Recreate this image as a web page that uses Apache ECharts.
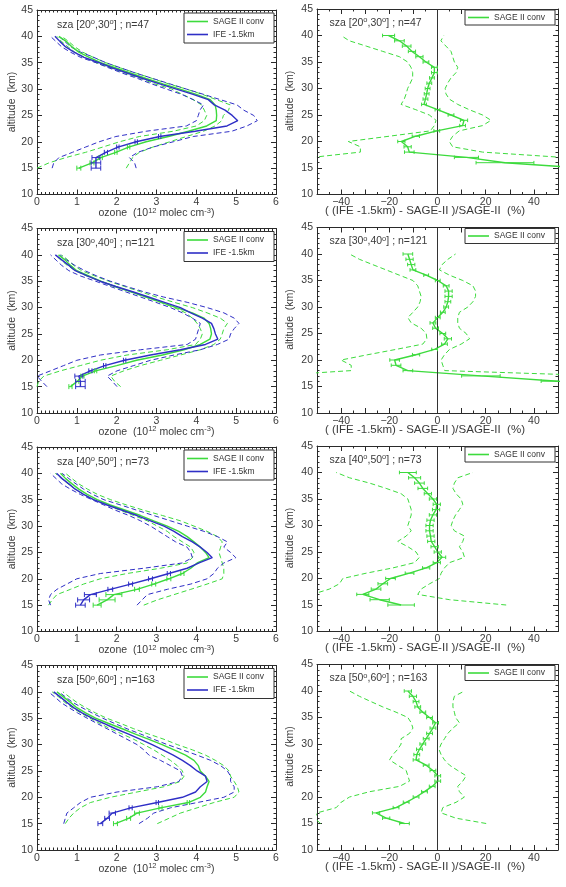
<!DOCTYPE html>
<html><head><meta charset="utf-8">
<script src="https://cdn.jsdelivr.net/npm/echarts@6/dist/echarts.min.js"></script>
<style>html,body{margin:0;padding:0;background:#fff}#c{width:566px;height:887px}</style>
</head><body><div id="c"></div>
<script>
// ---------- data ----------
const altitudes = [15,16,17,18,19,20,21,22,23,24,25,26,27,28,29,30,31,32,33,34,35,36,37,38,39,40];
const szaLow = [20,30,40,50];
const szaHigh = [30,40,50,60];
const nCount = [47,121,73,163];
const diffTickLabels = [-40,-20,0,20,40];

// panel 1  sza [20,30]
const p1_ife     = [1.48,1.48,1.48,1.73,2.03,2.49,3.08,3.97,4.77,5.04,4.9,4.72,4.45,4.3,3.92,3.5,3.08,2.66,2.28,1.9,1.56,1.18,0.93,0.72,0.58,0.45];
const p1_sage    = [1.05,1.38,1.6,1.98,2.3,2.74,3.3,3.8,4.26,4.5,4.51,4.5,4.47,4.35,4.0,3.59,3.16,2.74,2.36,1.98,1.6,1.31,1.05,0.88,0.74,0.55];
const p1_ifeLo   = [0.38,0.42,0.55,0.89,1.22,1.56,1.98,2.74,3.75,4.0,4.05,4.09,4.18,3.92,3.63,3.25,2.87,2.53,2.15,1.81,1.48,1.1,0.84,0.62,0.48,0.34];
const p1_ifeHi   = [2.49,2.45,2.32,2.53,2.91,3.42,3.92,4.89,5.27,5.53,5.44,5.19,5.02,4.6,4.18,3.75,3.33,2.91,2.49,2.11,1.73,1.43,1.1,0.85,0.7,0.55];
const p1_sageLo  = [0.0,0.3,0.72,1.22,1.65,2.07,2.57,3.42,4.0,4.2,4.26,4.2,4.13,3.92,3.65,3.38,2.95,2.6,2.22,1.85,1.48,1.2,0.95,0.78,0.62,0.5];
const p1_sageHi  = [2.24,2.32,2.4,2.57,2.91,3.33,3.75,4.18,4.47,4.64,4.68,4.81,4.85,4.5,4.15,3.75,3.3,2.9,2.5,2.1,1.73,1.42,1.15,0.95,0.8,0.62];
const p1_ifeErr  = [0.12,0.12,0.1,0.04,0.03,0.03,0.03,0,0,0,0,0,0,0,0,0,0,0,0,0,0,0,0,0,0,0];
const p1_sageErr = [0.05,0.05,0.04,0.03,0.03,0,0,0,0,0,0,0,0,0,0,0,0,0,0,0,0,0,0,0,0,0];
const p1_diff    = [60,28,12,-11.7,-12.4,-15,-9,-0.3,10.4,11,5.6,0,-5.6,-5,-4.5,-4.1,-3.4,-2.3,-1.3,-1.3,-4.8,-7.5,-10.6,-12.8,-15.8,-20.3];
const p1_diffLo  = [-70,-70,-52,-32,-32,-37,-20,-3,-1.3,-0.6,-3.4,-9,-15.1,-13.8,-13,-12.4,-11.3,-10.3,-10.3,-11,-12.4,-15.8,-22.7,-29.6,-36.6,-40];
const p1_diffHi  = [70,70,52,18.7,6.3,4.9,6.3,9,18.7,22.2,18.7,13.2,8.4,4.9,3.5,3.2,4.2,5.6,7.7,8.4,7,6.3,5.6,3.5,1.4,2.6];
const p1_diffErr = [5,12,5,2,1.5,1.5,1.5,1.2,1.2,1.5,1.2,1,1,1,1,1,1,1,1.2,1.2,1.2,1.5,1.5,1.8,2,2.5];

// panel 2  sza [30,40]
const p2_ife     = [1.09,1.09,1.05,1.34,1.7,2.2,2.85,3.6,4.23,4.54,4.48,4.44,4.38,4.15,3.86,3.6,3.2,2.8,2.4,1.98,1.58,1.26,0.96,0.8,0.63,0.46];
const p2_sage    = [0.84,1.01,1.14,1.47,2.0,2.5,3.15,3.69,4.1,4.34,4.38,4.36,4.32,4.19,3.9,3.5,3.12,2.74,2.36,1.95,1.6,1.3,1.0,0.84,0.71,0.54];
const p2_ifeLo   = [0.25,0.12,0.0,0.34,0.67,1.0,1.59,2.6,3.77,3.98,4.02,4.06,4.1,3.9,3.65,3.35,2.98,2.6,2.22,1.84,1.47,1.09,0.8,0.62,0.48,0.34];
const p2_ifeHi   = [2.01,1.89,1.76,2.01,2.43,2.85,3.44,4.1,4.53,4.82,4.86,4.95,5.07,4.95,4.69,4.27,3.77,3.18,2.68,2.25,1.84,1.5,1.2,0.95,0.75,0.58];
const p2_sageLo  = [0.0,0.04,0.17,0.59,1.09,1.59,2.26,3.27,3.98,4.1,4.15,4.1,4.02,3.9,3.73,3.44,3.1,2.72,2.35,1.98,1.6,1.25,0.96,0.76,0.6,0.46];
const p2_sageHi  = [2.1,1.95,1.85,2.18,2.6,3.1,3.6,4.1,4.44,4.6,4.65,4.69,4.78,4.6,4.27,3.9,3.44,3.0,2.6,2.2,1.8,1.45,1.12,0.92,0.78,0.62];
const p2_ifeErr  = [0.12,0.12,0.1,0.04,0.03,0.03,0,0,0,0,0,0,0,0,0,0,0,0,0,0,0,0,0,0,0,0];
const p2_sageErr = [0.04,0.04,0.04,0.03,0,0,0,0,0,0,0,0,0,0,0,0,0,0,0,0,0,0,0,0,0,0];
const p2_diff    = [75,50,18,-12.3,-17.2,-17.8,-8.9,-1.2,2.9,4.3,2.2,-0.8,-1.9,0.1,2.2,3.6,4.3,4.6,4.6,3.6,0.1,-4.7,-10.2,-10.9,-11.6,-12.3];
const p2_diffLo  = [-70,-70,-70,-35.8,-35.8,-40,-28.9,-17.2,-6.1,-4.4,-4.7,-6.8,-10.9,-12.3,-10.2,-8.2,-7.2,-6.8,-7.5,-8.2,-10.2,-15.8,-21.3,-26.9,-32.4,-36.5];
const p2_diffHi  = [70,70,70,3,2.2,1.5,2.9,5,9.8,13.3,11.9,9.1,8.4,8.4,9.1,12.6,14.7,15.8,15.8,14.7,10.5,5,0.8,1.9,4.3,7.5];
const p2_diffErr = [5,7,8,2,2,2,1.5,1.2,1.2,1.5,1.2,1.2,1.2,1,1,1,1.2,1.5,1.5,1.2,1,1,1.2,1.5,1.5,2];

// panel 3  sza [40,50]
const p3_ife     = [1.09,1.17,1.34,1.84,2.35,2.85,3.31,3.77,4.07,4.4,4.27,4.1,3.9,3.65,3.44,3.19,2.85,2.51,2.14,1.76,1.42,1.17,0.96,0.8,0.63,0.49];
const p3_sage    = [1.51,1.76,1.93,2.51,2.93,3.31,3.65,3.86,4.02,4.32,4.23,4.1,3.94,3.77,3.56,3.27,2.93,2.6,2.22,1.84,1.51,1.26,1.05,0.88,0.72,0.59];
const p3_ifeLo   = [0.34,0.29,0.34,0.5,0.75,1.0,1.59,2.68,3.65,3.9,3.86,3.77,3.48,3.27,3.06,2.85,2.6,2.31,1.97,1.68,1.38,1.09,0.84,0.62,0.48,0.34];
const p3_ifeHi   = [2.51,2.64,2.77,3.27,3.86,4.27,4.44,4.53,4.69,4.99,4.86,4.69,4.78,4.53,4.19,3.77,3.35,2.93,2.51,2.1,1.68,1.4,1.17,0.98,0.8,0.63];
const p3_sageLo  = [0.29,0.38,0.5,0.84,1.17,1.59,2.26,3.1,3.77,3.9,3.94,3.86,3.65,3.44,3.27,3.02,2.77,2.43,2.09,1.76,1.42,1.17,0.96,0.78,0.62,0.46];
const p3_sageHi  = [2.68,3.02,3.44,3.86,4.27,4.65,4.69,4.69,4.65,4.61,4.57,4.61,4.65,4.53,4.27,3.94,3.6,3.15,2.68,2.25,1.85,1.52,1.27,1.05,0.88,0.72];
const p3_ifeErr  = [0.12,0.15,0.15,0.06,0.05,0.05,0.04,0,0,0,0,0,0,0,0,0,0,0,0,0,0,0,0,0,0,0];
const p3_sageErr = [0.1,0.2,0.2,0.06,0.05,0.05,0.04,0,0,0,0,0,0,0,0,0,0,0,0,0,0,0,0,0,0,0];
const p3_diff    = [-15.1,-24,-31,-25.5,-22.7,-19.5,-11.6,-4.7,-0.3,1.9,0.1,-1.2,-2.6,-2.9,-3.3,-3.3,-2.9,-1.9,-0.6,-0.3,-1.9,-4,-6.1,-7.5,-9.5,-12.3];
const p3_diffLo  = [-70,-70,-52,-44.9,-40.7,-39.3,-29.6,-18.5,-9.5,-7.5,-8.9,-12.3,-16.5,-13,-10.9,-12.3,-11.6,-10.9,-10.9,-11.6,-12.3,-15.1,-21.3,-28.2,-36.5,-42];
const p3_diffHi  = [28.5,5,-8.2,-6.8,-3.3,0.8,1.5,2.9,5,11.2,10.5,9.1,10.5,11.2,7,5.7,6.4,7.5,9.1,10.5,9.8,7.7,6.4,7,8.4,14.7];
const p3_diffErr = [5.5,4,2.5,2,2,2,1.8,1.5,1.5,1.5,1.5,1.5,1.5,1.5,1.5,1.5,1.5,1.5,1.5,1.5,1.5,1.5,2,2,2.5,3.5];

// panel 4  sza [50,60]
const p4_ife     = [1.59,1.76,1.89,2.35,3.02,3.65,3.98,4.1,4.27,4.23,4.02,3.85,3.65,3.42,3.16,2.89,2.6,2.3,1.97,1.68,1.38,1.13,0.92,0.75,0.59,0.42];
const p4_sage    = [1.97,2.3,2.51,3.1,3.8,4.1,4.23,4.27,4.32,4.23,4.1,4.05,3.94,3.73,3.44,3.14,2.81,2.47,2.14,1.8,1.47,1.22,1.0,0.84,0.67,0.5];
const p4_ifeLo   = [0.67,0.71,0.75,0.92,1.09,1.34,2.01,3.02,3.56,3.65,3.6,3.35,3.1,2.81,2.68,2.51,2.26,2.01,1.76,1.51,1.26,1.02,0.8,0.6,0.45,0.29];
const p4_ifeHi   = [2.56,2.77,2.93,3.35,4.02,4.69,4.95,4.95,4.86,4.86,4.78,4.61,4.36,4.02,3.65,3.27,2.93,2.6,2.26,1.95,1.65,1.38,1.13,0.9,0.72,0.55];
const p4_sageLo  = [0.71,0.8,0.92,1.09,1.34,1.84,2.51,3.19,3.6,3.69,3.65,3.52,3.35,3.14,2.93,2.68,2.43,2.14,1.84,1.58,1.33,1.1,0.88,0.7,0.55,0.38];
const p4_sageHi  = [3.02,3.31,3.6,4.02,4.44,4.95,5.07,5.03,4.95,4.86,4.82,4.69,4.48,4.23,3.9,3.52,3.19,2.8,2.43,2.1,1.75,1.47,1.22,1.0,0.82,0.65];
const p4_ifeErr  = [0.06,0.06,0.08,0.04,0.03,0,0,0,0,0,0,0,0,0,0,0,0,0,0,0,0,0,0,0,0,0];
const p4_sageErr = [0.05,0.05,0.06,0.04,0.03,0,0,0,0,0,0,0,0,0,0,0,0,0,0,0,0,0,0,0,0,0];
const p4_diff    = [-13.7,-21.3,-25.5,-17.2,-13,-8.9,-5.4,-2.2,0.1,0.1,-1.9,-4.7,-8.9,-8.6,-7.5,-6.1,-4.7,-3.3,-1.9,-0.8,-3.3,-6.1,-8.2,-8.9,-10.2,-12.3];
const p4_diffLo  = [-48.5,-51,-50,-42,-40,-36.5,-28.2,-15.8,-11.6,-12.3,-13,-16.5,-19.9,-18.5,-16.5,-15.1,-15.1,-11.6,-10.2,-10.9,-12.3,-17.2,-22.7,-27.6,-32.4,-36.5];
const p4_diffHi  = [20.2,7.7,1.5,2.2,7.7,11.2,9.1,8.4,10.5,11.9,8.4,5,2.9,1.5,0.6,1.5,2.9,4.3,6.4,9.1,7.5,7,6.4,6.4,7,11.2];
const p4_diffErr = [2,1.5,1.5,1.2,1.2,1.2,1.2,1.2,1.2,1.2,1.2,1.2,1.2,1.2,1.2,1.2,1.2,1.2,1.2,1.2,1.2,1.2,1.2,1.2,1.5,1.5];

// ---------- build ----------
const panels = [
  {ife:p1_ife,sage:p1_sage,ifeLo:p1_ifeLo,ifeHi:p1_ifeHi,sageLo:p1_sageLo,sageHi:p1_sageHi,ifeErr:p1_ifeErr,sageErr:p1_sageErr,diff:p1_diff,diffLo:p1_diffLo,diffHi:p1_diffHi,diffErr:p1_diffErr},
  {ife:p2_ife,sage:p2_sage,ifeLo:p2_ifeLo,ifeHi:p2_ifeHi,sageLo:p2_sageLo,sageHi:p2_sageHi,ifeErr:p2_ifeErr,sageErr:p2_sageErr,diff:p2_diff,diffLo:p2_diffLo,diffHi:p2_diffHi,diffErr:p2_diffErr},
  {ife:p3_ife,sage:p3_sage,ifeLo:p3_ifeLo,ifeHi:p3_ifeHi,sageLo:p3_sageLo,sageHi:p3_sageHi,ifeErr:p3_ifeErr,sageErr:p3_sageErr,diff:p3_diff,diffLo:p3_diffLo,diffHi:p3_diffHi,diffErr:p3_diffErr},
  {ife:p4_ife,sage:p4_sage,ifeLo:p4_ifeLo,ifeHi:p4_ifeHi,sageLo:p4_sageLo,sageHi:p4_sageHi,ifeErr:p4_ifeErr,sageErr:p4_sageErr,diff:p4_diff,diffLo:p4_diffLo,diffHi:p4_diffHi,diffErr:p4_diffErr}
];

const FONT = '"Liberation Sans", Arial, Helvetica, sans-serif';
const GREEN = '#3ddb3d', BLUE = '#2f2fc6', AX = '#2a2a2a', TXT = '#3a3a3a';
const rowTop = [10, 228.5, 447, 665.5];
const GH = 184.5;
const LG = {left: 37, width: 239};
const RG = {left: 317, width: 241};

const grids = [], xAxes = [], yAxes = [], series = [], legends = [], graphics = [];

function pairs(vals){ return vals.map((v,i)=>[v, altitudes[i]]); }
function errs(vals, e){ return vals.map((v,i)=>[v, altitudes[i], e[i]]); }
function minusFmt(v){ return v < 0 ? '\u2212' + Math.abs(v) : String(v); }

function addAxes(g, xmin, xmax, xint, xminor, fmt){
  const tickStyle = {color: AX, width: 1};
  const base = {type:'value', gridIndex:g, min:xmin, max:xmax, interval:xint,
    splitLine:{show:false},
    axisLine:{show:true, onZero:false, lineStyle:{color:AX, width:1}},
    axisTick:{show:true, inside:true, length:5, lineStyle:tickStyle},
    minorTick:{show:true, splitNumber:xminor, length:2.5, lineStyle:tickStyle}};
  xAxes.push(Object.assign({}, base, {position:'bottom',
    axisLabel:{show:true, margin:2.5, fontSize:10.5, color:TXT, fontFamily:FONT, formatter:fmt}}));
  xAxes.push(Object.assign({}, base, {position:'top', axisLabel:{show:false}}));
  const ybase = {type:'value', gridIndex:g, min:10, max:45, interval:5,
    splitLine:{show:false},
    axisLine:{show:true, onZero:false, lineStyle:{color:AX, width:1}},
    axisTick:{show:true, inside:true, length:5, lineStyle:tickStyle},
    minorTick:{show:true, splitNumber:5, length:2.5, lineStyle:tickStyle}};
  yAxes.push(Object.assign({}, ybase, {position:'left',
    axisLabel:{show:true, margin:4, fontSize:10.5, color:TXT, fontFamily:FONT}}));
  yAxes.push(Object.assign({}, ybase, {position:'right', axisLabel:{show:false}}));
}

function line(g, name, vals, color, dashed, z){
  return {type:'line', name:name, xAxisIndex:2*g, yAxisIndex:2*g, data:pairs(vals),
    symbol:'none', showSymbol:false, silent:true, clip:true, z:z,
    lineStyle:{color:color, width: dashed ? 1 : 1.4, type: dashed ? [5,3] : 'solid'},
    itemStyle:{color:color}};
}

function errBars(g, vals, e, color, cap){
  return {type:'custom', xAxisIndex:2*g, yAxisIndex:2*g, data:errs(vals, e), silent:true, z:6,
    encode:{x:0, y:1},
    renderItem:function(params, api){
      if (!(api.value(2) > 0)) return null;
      const cs = params.coordSys;
      const a = api.coord([api.value(0) - api.value(2), api.value(1)]);
      const b = api.coord([api.value(0) + api.value(2), api.value(1)]);
      const x1 = Math.max(a[0], cs.x), x2 = Math.min(b[0], cs.x + cs.width);
      if (x2 <= x1) return null;
      const st = {stroke:color, lineWidth:1};
      const ch = [{type:'line', shape:{x1:x1, y1:a[1], x2:x2, y2:a[1]}, style:st}];
      if (a[0] >= cs.x) ch.push({type:'line', shape:{x1:a[0], y1:a[1]-cap, x2:a[0], y2:a[1]+cap}, style:st});
      if (b[0] <= cs.x + cs.width) ch.push({type:'line', shape:{x1:b[0], y1:b[1]-cap, x2:b[0], y2:b[1]+cap}, style:st});
      return {type:'group', children:ch};
    }};
}

const richBase = {
  a:{fontSize:10.5, fontFamily:FONT, fill:TXT, color:TXT, lineHeight:14},
  s:{fontSize:7.5, fontFamily:FONT, fill:TXT, color:TXT, lineHeight:8, verticalAlign:'top'}
};

panels.forEach((p, i) => {
  const top = rowTop[i];
  const gl = 2*i, gr = 2*i+1;
  grids.push({left:LG.left, width:LG.width, top:top, height:GH, containLabel:false});
  grids.push({left:RG.left, width:RG.width, top:top-1, height:GH+1, containLabel:false});
  addAxes(gl, 0, 6, 1, 10, v => String(v));
  addAxes(gr, -50, 50, 10, 2, v => (diffTickLabels.indexOf(v) >= 0 ? minusFmt(v) : ''));

  // left panel
  series.push(line(gl, 'sageLo'+i, p.sageLo, GREEN, true, 2));
  series.push(line(gl, 'sageHi'+i, p.sageHi, GREEN, true, 2));
  series.push(line(gl, 'ifeLo'+i, p.ifeLo, BLUE, true, 2));
  series.push(line(gl, 'ifeHi'+i, p.ifeHi, BLUE, true, 2));
  series.push(line(gl, 'SAGE II conv', p.sage, GREEN, false, 3));
  series.push(line(gl, 'IFE -1.5km', p.ife, BLUE, false, 4));
  series.push(errBars(gl, p.sage, p.sageErr, GREEN, 2.5));
  series.push(errBars(gl, p.ife, p.ifeErr, BLUE, 2.5));

  // right panel
  series.push(line(gr, 'diffLo'+i, p.diffLo, GREEN, true, 2));
  series.push(line(gr, 'diffHi'+i, p.diffHi, GREEN, true, 2));
  const d = line(gr, 'SAGE II conv', p.diff, GREEN, false, 3);
  d.markLine = {silent:true, symbol:['none','none'], label:{show:false}, animation:false,
    lineStyle:{color:'#333', type:'solid', width:1}, data:[{xAxis:0}]};
  series.push(d);
  series.push(errBars(gr, p.diff, p.diffErr, GREEN, 1.8));

  // legends
  const legText = {fontSize:8.5, color:'#333', fontFamily:FONT};
  legends.push({left:184, top:top+3, orient:'vertical', data:['SAGE II conv','IFE -1.5km'],
    icon:'rect', itemWidth:21, itemHeight:1.6, itemGap:4, padding:[4,10,4,3], borderColor:'#333', borderWidth:1,
    backgroundColor:'#fff', textStyle:legText, selectedMode:false});
  legends.push({left:465, top:top, orient:'vertical', data:['SAGE II conv'],
    icon:'rect', itemWidth:21, itemHeight:1.6, itemGap:4, padding:[3,10,3,3], borderColor:'#333', borderWidth:1,
    backgroundColor:'#fff', textStyle:legText, selectedMode:false});

  // annotations
  const sza = '{a|sza [' + szaLow[i] + '}{s|o}{a|,' + szaHigh[i] + '}{s|o}{a|] ; n=' + nCount[i] + '}';
  graphics.push({type:'text', x:57, y:top+15, style:{text:sza, rich:richBase, verticalAlign:'middle', align:'left'}, z:10});
  graphics.push({type:'text', x:329.5, y:top+13, style:{text:sza, rich:richBase, verticalAlign:'middle', align:'left'}, z:10});
  graphics.push({type:'text', x:LG.left + LG.width/2, y:top+203.5,
    style:{text:'{a|ozone  (10}{s|12}{a| molec cm}{s|-3}{a|)}', rich:richBase, verticalAlign:'middle', align:'center'}, z:10});
  graphics.push({type:'text', x:425, y:top+201,
    style:{text:'( (IFE -1.5km) - SAGE-II )/SAGE-II  (%)', fontSize:11.5, fontFamily:FONT, fill:TXT, verticalAlign:'middle', align:'center'}, z:10});
  graphics.push({type:'text', x:12, y:top+92, rotation:Math.PI/2,
    style:{text:'altitude  (km)', fontSize:10.5, fontFamily:FONT, fill:TXT, verticalAlign:'middle', align:'center'}, z:10});
  graphics.push({type:'text', x:290, y:top+91, rotation:Math.PI/2,
    style:{text:'altitude  (km)', fontSize:10.5, fontFamily:FONT, fill:TXT, verticalAlign:'middle', align:'center'}, z:10});
});

const chart = echarts.init(document.getElementById('c'), null, {renderer:'canvas'});
chart.setOption({
  animation:false,
  backgroundColor:'#fff',
  grid:grids, xAxis:xAxes, yAxis:yAxes, series:series, legend:legends, graphic:graphics
});
</script>
</body></html>
